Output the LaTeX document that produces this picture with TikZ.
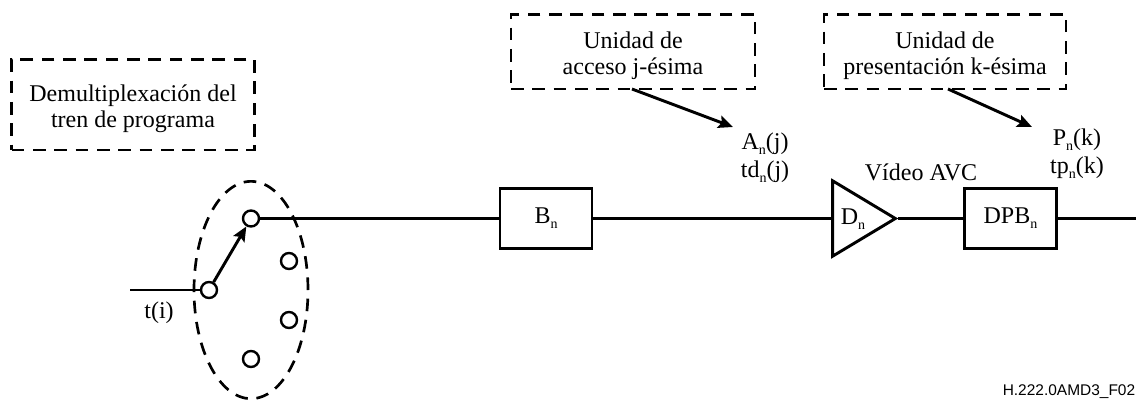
\documentclass[tikz,border=0pt]{standalone}
\usepackage{fontspec}
\setmainfont{Liberation Serif}
\newfontfamily\figfont{Liberation Sans}
\usetikzlibrary{arrows.meta,shapes.geometric}
\newcommand{\sbn}{\raisebox{-3.6pt}{\fontsize{10.5}{10.5}\selectfont n}}
\newcommand{\notetop}{\rule{0pt}{18.5pt}}

\begin{document}
\begin{tikzpicture}[x=0.75pt,y=-0.75pt,>={Stealth[length=11pt,width=9.5pt,inset=2pt]},
        every node/.style={font=\fontsize{18}{19.5}\selectfont,inner sep=0pt},
        block/.style={draw,line width=2.2pt,minimum width=69pt,minimum height=45.5pt},
        note/.style={draw,line width=2pt,dash pattern=on 9.5pt off 6.5pt,align=center},
        port/.style={circle,draw,fill=white,line width=1.8pt,minimum size=12pt},
        wire/.style={line width=2.5pt},
        pointer/.style={->,line width=2.2pt},
        timing/.style={align=center,font=\fontsize{18}{21}\selectfont}]

  \useasboundingbox (0,0) rectangle (1136,401);

  \node[note,minimum width=182pt,minimum height=68pt] (demux) at (133,104.5)
        {\notetop Demultiplexación del\\tren de programa};
  \node[note,minimum width=183pt,minimum height=56pt] (acceso) at (633,51.5)
        {\notetop Unidad de\\acceso j-ésima};
  \node[note,minimum width=181.5pt,minimum height=56pt] (present) at (945,51.5)
        {\notetop Unidad de\\presentación k-ésima};

  \node[draw,dash pattern=on 9.5pt off 6.5pt,line width=2pt,ellipse,
        minimum width=85.5pt,minimum height=163pt] (selector) at (251,290) {};

  \node[port] (in) at (209,290) {};
  \node[port] (p1) at (251,218.5) {};
  \node[port] (p2) at (289,261) {};
  \node[port] (p3) at (289,320) {};
  \node[port] (p4) at (251,359) {};

  \node[block] (bn) at (546,218.5) {B\sbn};
  \node[block] (dpb) at (1010.5,218.5) {DPB\sbn};
  \node[draw,line width=2.2pt,isosceles triangle,isosceles triangle apex angle=62,
        minimum height=47pt,inner sep=0pt] (dn) at (854,218.5) {};
  \node (dnl) at (853,219) {D\sbn};

  \node (vid) at (921,172) {Vídeo AVC};
  \node[timing] (an) at (765,158) {A\sbn(j)\\td\sbn(j)};
  \node[timing] (pn) at (1077,154) {P\sbn(k)\\tp\sbn(k)};
  \node (ti) at (159,313) {t(i)};
  \node[font=\figfont\fontsize{11.6}{14}\selectfont,anchor=base west] (ref) at (1002.5,395.5) {H.222.0AMD3\_F02};

  \coordinate (src) at (130,290);
  \coordinate (out) at (1136,218.5);
  \coordinate (a1) at (632,89);
  \coordinate (a2) at (733,127);
  \coordinate (b1) at (948,89);
  \coordinate (b2) at (1032,127);

  \draw[wire,line width=1.8pt] (src) -- (in);
  \draw[pointer] (in) -- (p1);
  \draw[wire] (p1) -- (bn);
  \draw[wire] (bn) -- (dn.west);
  \draw[wire] (dn.east) -- (dpb);
  \draw[wire] (dpb) -- (out);
  \draw[pointer] (a1) -- (a2);
  \draw[pointer] (b1) -- (b2);

\end{tikzpicture}
\end{document}
